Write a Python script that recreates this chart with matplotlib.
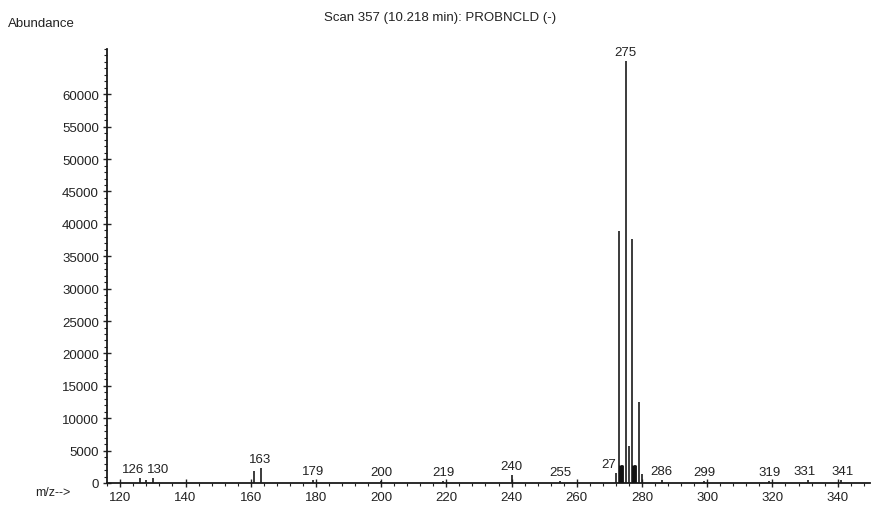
import matplotlib
matplotlib.use("Agg")
import matplotlib.pyplot as plt
from matplotlib.ticker import MultipleLocator

plt.rcParams['font.family'] = ['Liberation Sans', 'DejaVu Sans']

# m/z values and abundances
mz = [126, 128, 130, 161, 163, 179, 200, 219, 240, 255, 272, 273, 274, 275,
      276, 277, 278, 279, 280, 286, 299, 319, 331, 341]
abundance = [800, 500, 700, 1800, 2300, 400, 300, 300, 1200, 300, 1500, 38900,
             2800, 65100, 5700, 37600, 2800, 12500, 1400, 400, 300, 300, 400, 400]

# peak labels
label_mz = [126, 130, 163, 179, 200, 219, 240, 255, 275, 286, 299, 319, 331, 341]
label_txt = ["126", "130", "163", "179", "200", "219", "240", "255", "275",
             "286", "299", "319", "331", "341"]
label_y = [800, 700, 2300, 400, 300, 300, 1200, 300, 65100, 400, 300, 300, 400, 400]
# small horizontal nudges (m/z units) so crowded labels do not collide
label_dx = [-2.0, 1.5, 0, 0, 0, 0, 0, 0, 0, 0, 0, 0, -1.0, 0.5]

x_ticks = [120, 140, 160, 180, 200, 220, 240, 260, 280, 300, 320, 340]
y_ticks = [0, 5000, 10000, 15000, 20000, 25000, 30000, 35000, 40000, 45000,
           50000, 55000, 60000]

fig = plt.figure(figsize=(8.72, 5.10), dpi=100)
ax = fig.add_axes([0.123, 0.051, 0.875, 0.851])

ax.vlines(mz, 0, abundance, colors='#1a1a1a', linewidth=1.2, zorder=3)
# thick base blocks near cluster
ax.vlines([273.5, 277.5], 0, [2800, 2800], colors='#111111', linewidth=3.5, zorder=3)

for x, t, y, dx in zip(label_mz, label_txt, label_y, label_dx):
    ax.text(x + dx, y + 500, t, ha='center', va='bottom', fontsize=9.5, color='#222222')
ax.text(272, 1500 + 500, "27", ha='right', va='bottom', fontsize=9.5, color='#222222')

ax.set_xlim(116, 350)
ax.set_ylim(0, 67000)
ax.set_xticks(x_ticks)
ax.set_yticks(y_ticks)
ax.set_xticklabels([str(v) for v in x_ticks])
ax.set_yticklabels([str(v) for v in y_ticks])
ax.xaxis.set_minor_locator(MultipleLocator(4))
ax.yaxis.set_minor_locator(MultipleLocator(1000))
ax.tick_params(axis='both', which='major', direction='inout', length=6,
               width=1, labelsize=9.5, colors='#222222', pad=3)
ax.tick_params(axis='both', which='minor', direction='out', length=2.5, width=0.8,
               colors='#222222')

for s in ['top', 'right']:
    ax.spines[s].set_visible(False)
for s in ['left', 'bottom']:
    ax.spines[s].set_linewidth(1.3)
    ax.spines[s].set_color('#1a1a1a')

fig.text(0.009, 0.952, "Abundance", fontsize=9.5, ha='left', va='center', color='#222222')
fig.text(0.505, 0.965, "Scan 357 (10.218 min): PROBNCLD (-)", fontsize=9.5,
         ha='center', va='center', color='#222222')
fig.text(0.040, 0.033, "m/z-->", fontsize=9, ha='left', va='center', color='#222222')

fig.savefig("out.png", dpi=100, facecolor='white')
